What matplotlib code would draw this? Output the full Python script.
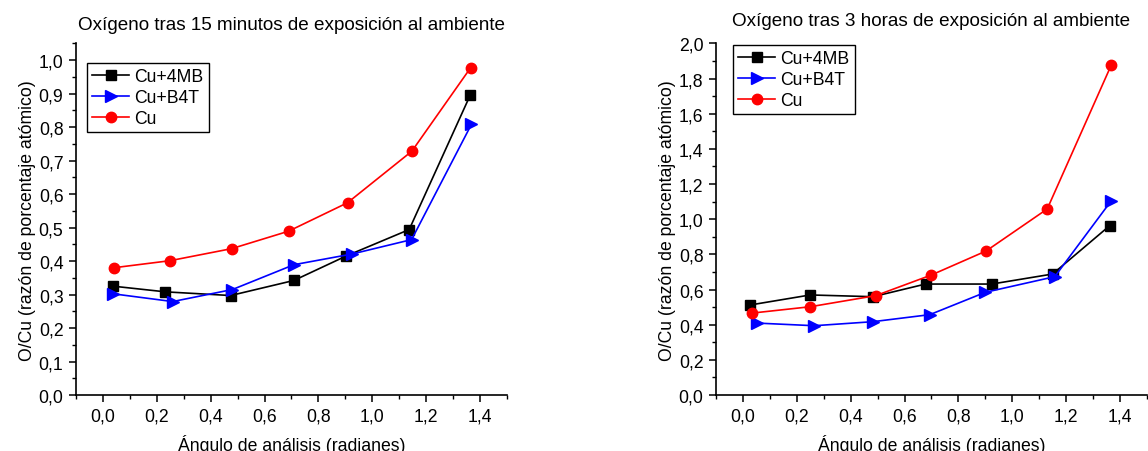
import matplotlib
matplotlib.use("Agg")
import matplotlib.pyplot as plt
from matplotlib.ticker import MultipleLocator, FuncFormatter

plt.rcParams['font.family'] = ['Liberation Sans', 'DejaVu Sans']

# Left panel: 15 minutes
x15_4mb = [0.037, 0.232, 0.474, 0.709, 0.903, 1.137, 1.364]
y15_4mb = [0.325, 0.308, 0.297, 0.342, 0.415, 0.494, 0.896]
x15_b4t = [0.039, 0.259, 0.481, 0.709, 0.925, 1.146, 1.368]
y15_b4t = [0.302, 0.279, 0.315, 0.389, 0.421, 0.464, 0.808]
x15_cu = [0.041, 0.249, 0.478, 0.689, 0.908, 1.147, 1.365]
y15_cu = [0.380, 0.401, 0.437, 0.489, 0.574, 0.728, 0.977]

# Right panel: 3 hours
x3_4mb = [0.027, 0.250, 0.483, 0.678, 0.924, 1.150, 1.362]
y3_4mb = [0.512, 0.569, 0.559, 0.631, 0.631, 0.688, 0.963]
x3_b4t = [0.052, 0.265, 0.483, 0.694, 0.900, 1.158, 1.368]
y3_b4t = [0.409, 0.394, 0.417, 0.457, 0.584, 0.673, 1.105]
x3_cu = [0.035, 0.250, 0.493, 0.699, 0.903, 1.130, 1.368]
y3_cu = [0.466, 0.502, 0.565, 0.682, 0.819, 1.058, 1.877]

labels = ["Cu+4MB", "Cu+B4T", "Cu"]
titles = ["Oxígeno tras 15 minutos de exposición al ambiente",
          "Oxígeno tras 3 horas de exposición al ambiente"]
xlabel = "Ángulo de análisis (radianes)"
ylabel = "O/Cu (razón de porcentaje atómico)"

FS = 12.7
TFS = 13.6

fig = plt.figure(figsize=(11.48, 4.52), dpi=100)
ax1 = fig.add_axes([0.0662, 0.1239, 0.3754, 0.778])
ax2 = fig.add_axes([0.6237, 0.1239, 0.3753, 0.778])

comma = FuncFormatter(lambda v, p: f"{v:.1f}".replace('.', ','))

def style(ax, ylim, ymaj, ymin):
    ax.set_xlim(-0.1, 1.5)
    ax.set_ylim(*ylim)
    for s in ['top', 'right']:
        ax.spines[s].set_visible(False)
    for s in ['left', 'bottom']:
        ax.spines[s].set_linewidth(1.2)
    ax.xaxis.set_major_locator(MultipleLocator(0.2))
    ax.xaxis.set_minor_locator(MultipleLocator(0.1))
    ax.yaxis.set_major_locator(MultipleLocator(ymaj))
    ax.yaxis.set_minor_locator(MultipleLocator(ymin))
    ax.xaxis.set_major_formatter(comma)
    ax.yaxis.set_major_formatter(comma)
    ax.tick_params(which='major', direction='out', length=5, width=1.1, labelsize=FS, pad=4)
    ax.tick_params(which='minor', direction='out', length=3, width=1.0)
    ax.set_xlabel(xlabel, fontsize=FS, labelpad=7)
    ax.set_ylabel(ylabel, fontsize=FS, labelpad=2)

def plot_set(ax, xs, ys):
    ax.plot(xs[0], ys[0], '-', color='black', marker='s', markersize=7, lw=1.2, label=labels[0], clip_on=False)
    ax.plot(xs[1], ys[1], '-', color='blue', marker='>', markersize=8, lw=1.2, label=labels[1], clip_on=False)
    ax.plot(xs[2], ys[2], '-', color='red', marker='o', markersize=7.5, lw=1.2, label=labels[2], clip_on=False)

plot_set(ax1, [x15_4mb, x15_b4t, x15_cu], [y15_4mb, y15_b4t, y15_cu])
plot_set(ax2, [x3_4mb, x3_b4t, x3_cu], [y3_4mb, y3_b4t, y3_cu])

style(ax1, (0, 1.05), 0.1, 0.05)
style(ax2, (0, 2.0), 0.2, 0.1)

ax1.set_title(titles[0], fontsize=TFS, pad=10)
ax2.set_title(titles[1], fontsize=TFS, pad=13)

for ax, loc in [(ax1, (0.0255, 0.944)), (ax2, (0.039, 0.995))]:
    leg = ax.legend(loc='upper left', bbox_to_anchor=loc, fontsize=FS, frameon=True,
                    fancybox=False, edgecolor='black', framealpha=1,
                    handlelength=2.1, handletextpad=0.3, borderpad=0.3, labelspacing=0.22,
                    borderaxespad=0)
    leg.get_frame().set_linewidth(1.0)

fig.savefig("out.png", dpi=100)
